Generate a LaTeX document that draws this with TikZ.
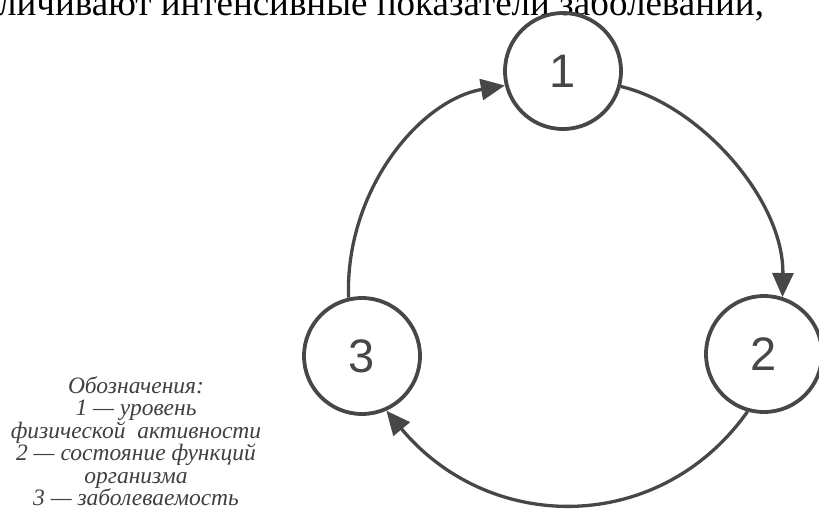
\documentclass[tikz,border=0pt]{standalone}
\usepackage{fontspec}
\setmainfont{Liberation Serif}
\newfontfamily\digitfont{Liberation Sans}
\usetikzlibrary{arrows.meta}
\definecolor{inkgray}{HTML}{474747}
\definecolor{keygray}{HTML}{404040}

\begin{document}
\begin{tikzpicture}[x=1pt, y=-1pt,
    stage/.style={circle, draw=inkgray, line width=3.8pt, minimum size=116pt, inner sep=0pt,
      text=inkgray, font=\digitfont\fontsize{47}{47}\selectfont},
    flow/.style={draw=inkgray, line width=3.3pt, -{Triangle[length=24pt, width=21pt]}},
    legend/.style={align=center, text=keygray, inner sep=0pt,
      font=\itshape\fontsize{23.5}{22.5}\selectfont}]
    \useasboundingbox (0,0) rectangle (819,515);
    \clip (0,0) rectangle (819,515);

    % Line of page text cut by the top edge
    \node[anchor=base west, inner sep=0pt, font=\fontsize{37}{37}\selectfont] (pageline) at (-2,15)
        {личивают интенсивные показатели заболеваний,};

    % Stages
    \node[stage] (s1) at (563,71) {1};
    \node[stage] (s2) at (764,354) {2};
    \node[stage] (s3) at (362,356) {3};

    % Cycle
    \draw[flow] (s1.-15) .. controls (700,105) and (784,200) .. (s2.72);
    \draw[flow] (s2.254) .. controls (660,535) and (490,535) .. (s3.-66);
    \draw[flow] (s3.103) .. controls (345,190) and (420,100) .. (s1.194);

    % Key
    \node[legend] (key) at (136,441) {Обозначения:\\ 1 — уровень\\ физической~~активности\\
        2 — состояние функций\\ организма\\ 3 — заболеваемость};
\end{tikzpicture}
\end{document}
